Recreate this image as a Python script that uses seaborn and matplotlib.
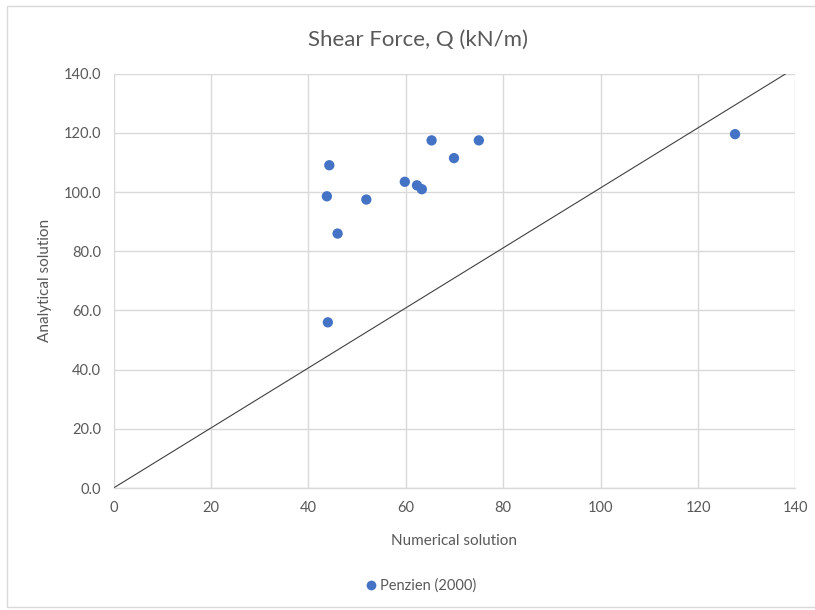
import matplotlib
matplotlib.use("Agg")
import matplotlib.pyplot as plt
import seaborn as sns
import pandas as pd
from matplotlib.patches import Rectangle
from matplotlib.lines import Line2D

# Penzien (2000) comparison points
numerical = [44.3, 43.8, 51.9, 46.0, 44.0, 59.8, 62.3, 63.3, 65.3, 69.9, 75.0, 127.6]
analytical = [109.1, 98.6, 97.5, 86.0, 56.0, 103.5, 102.3, 101.0, 117.5, 111.5, 117.5, 119.6]
series_name = "Penzien (2000)"

# reference line endpoints
ref_x = [0, 138]
ref_y = [0, 140]

x_ticks = [0, 20, 40, 60, 80, 100, 120, 140]
y_ticks = [0, 20, 40, 60, 80, 100, 120, 140]

sns.set_style("white")
plt.rcParams["font.family"] = ["Lato", "DejaVu Sans"]

df = pd.DataFrame({"Numerical solution": numerical,
                   "Analytical solution": analytical,
                   "series": series_name})

fig = plt.figure(figsize=(8.15, 6.1), dpi=100)
ax = fig.add_axes([0.1393, 0.2, 0.8367, 0.679])

text_color = "#595959"
grid_color = "#d9d9d9"
point_color = "#4472C4"

sns.lineplot(x=ref_x, y=ref_y, ax=ax, color="#404040", linewidth=0.8, zorder=2)
sns.scatterplot(data=df, x="Numerical solution", y="Analytical solution",
                ax=ax, color=point_color, s=55, edgecolor="none", zorder=3,
                legend=False)

ax.set_xlim(0, 140)
ax.set_ylim(0, 140)
ax.set_xticks(x_ticks)
ax.set_yticks(y_ticks)
ax.set_xticklabels([f"{v}" for v in x_ticks])
ax.set_yticklabels([f"{v:.1f}" for v in y_ticks])
ax.grid(True, color=grid_color, linewidth=1.0, zorder=0)
ax.set_axisbelow(True)
for side in ["top", "right", "left"]:
    ax.spines[side].set_visible(False)
ax.spines["bottom"].set_color(grid_color)
ax.spines["bottom"].set_linewidth(1.0)
ax.tick_params(axis="both", length=0, labelsize=10.5, colors=text_color, pad=9)

ax.set_xlabel("Numerical solution", fontsize=11, color=text_color, labelpad=14)
ax.set_ylabel("Analytical solution", fontsize=11, color=text_color, labelpad=8)

fig.text(0.5125, 0.935, "Shear Force, Q (kN/m)", ha="center", va="center",
         fontsize=16, color=text_color)

handle = Line2D([], [], marker="o", linestyle="none", markersize=7,
                markerfacecolor=point_color, markeredgecolor="none")
fig.legend([handle], [series_name], loc="center", bbox_to_anchor=(0.515, 0.04),
           frameon=False, fontsize=10.5, labelcolor=text_color,
           handletextpad=0.1, handlelength=1.0)

# chart area border
fig.patches.append(Rectangle((0.008, 0.005), 1.2, 0.985, transform=fig.transFigure,
                             fill=False, edgecolor="#d9d9d9", linewidth=1.0))

fig.savefig("out.png", dpi=100, facecolor="white")
